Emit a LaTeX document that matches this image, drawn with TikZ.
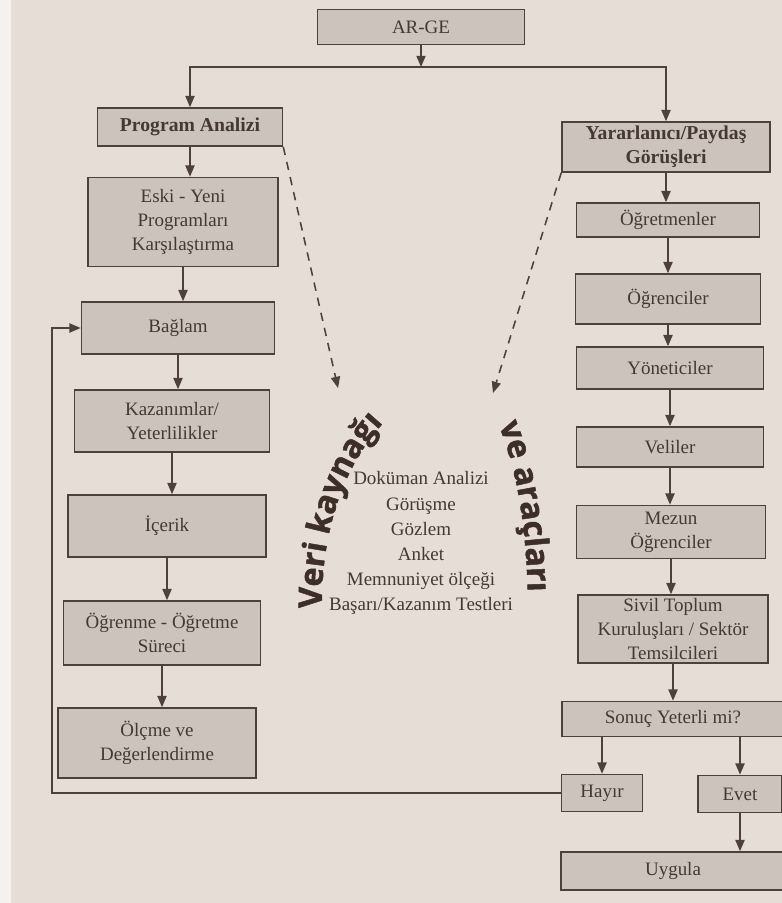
\documentclass[tikz,border=0pt]{standalone}
\usepackage{fontspec}
\setmainfont{Liberation Serif}
\newfontfamily\egri{Open Sans}[BoldFeatures={FakeBold=1.5}]
\usetikzlibrary{arrows.meta,decorations.text}
\definecolor{sayfa}{RGB}{229,221,214}
\definecolor{dolgu}{RGB}{205,195,189}
\definecolor{cizgi}{RGB}{78,64,58}
\definecolor{yazi}{RGB}{70,56,50}
\definecolor{koyu}{RGB}{62,46,40}
\tikzset{
  kutu/.style={draw=cizgi,fill=dolgu,line width=1.1pt,align=center,inner sep=1pt,text=yazi,
    font=\fontsize{13.5}{17}\selectfont},
  boyut/.style 2 args={minimum width=#1*0.025cm,minimum height=#2*0.025cm},
  ok/.style={draw=cizgi,line width=1.1pt,-{Triangle[length=8pt,width=6.5pt]}},
  kesik/.style={dash pattern=on 6pt off 5pt}
}
\begin{document}
\begin{tikzpicture}[x=0.025cm,y=-0.025cm]
\fill[sayfa] (0,0) rectangle (782,903);
\fill[white!60!sayfa] (0,0) rectangle (11,903);
\useasboundingbox (0,0) rectangle (782,903);
\node[kutu,boyut={207}{35}] (arge) at (421,27) {AR-GE};
\node[kutu,boyut={185}{38},font=\fontsize{14}{17}\selectfont\bfseries] (prog) at (190,127) {Program Analizi};
\node[kutu,boyut={190}{89}] (eski) at (183,222) {Eski - Yeni\\Programları\\Karşılaştırma};
\node[kutu,boyut={193}{52}] (baglam) at (178,328) {Bağlam};
\node[kutu,boyut={195}{62}] (kazanim) at (172,421) {Kazanımlar/\\Yeterlilikler};
\node[kutu,boyut={198}{62}] (icerik) at (167,526) {İçerik};
\node[kutu,boyut={197}{64}] (surec) at (162,633) {Öğrenme - Öğretme\\Süreci};
\node[kutu,boyut={198}{70}] (olcme) at (157,743) {Ölçme ve\\Değerlendirme};
\node[kutu,boyut={208}{50},font=\fontsize{14}{17}\selectfont\bfseries] (paydas) at (666,147) {Yararlanıcı/Paydaş\\Görüşleri};
\node[kutu,boyut={183}{34}] (ogretmen) at (668,220) {Öğretmenler};
\node[kutu,boyut={185}{50}] (ogrenci) at (668,299) {Öğrenciler};
\node[kutu,boyut={187}{42}] (yonetici) at (670,368) {Yöneticiler};
\node[kutu,boyut={187}{40}] (veli) at (670,447) {Veliler};
\node[kutu,boyut={189}{53}] (mezun) at (671,532) {Mezun\\Öğrenciler};
\node[kutu,boyut={190}{68}] (stk) at (673,629) {Sivil Toplum\\Kuruluşları / Sektör\\Temsilcileri};
\node[kutu,boyut={222}{35}] (sonuc) at (673,719) {Sonuç Yeterli mi?};
\node[kutu,boyut={81}{37}] (hayir) at (602,793) {Hayır};
\node[kutu,boyut={84}{37}] (evet) at (740,794) {Evet};
\node[kutu,boyut={224}{38}] (uygula) at (673,871) {Uygula};
\node[align=center,text=yazi,font=\fontsize{13.5}{17.8}\selectfont] (liste) at (421,543)
  {Doküman Analizi\\Görüşme\\Gözlem\\Anket\\Memnuniyet ölçeği\\Başarı/Kazanım Testleri};
\coordinate (dal) at (421,67);
\coordinate (u1) at (338,388);
\coordinate (u2) at (493,393);
\coordinate (geri) at (52,793);
\draw[ok] (arge) -- (dal);
\draw[ok] (dal) -| (prog);
\draw[ok] (dal) -| (paydas);
\draw[ok] (prog) -- (prog |- eski.north);
\draw[ok] (eski) -- (eski |- baglam.north);
\draw[ok] (baglam) -- (baglam |- kazanim.north);
\draw[ok] (kazanim) -- (kazanim |- icerik.north);
\draw[ok] (icerik) -- (icerik |- surec.north);
\draw[ok] (surec) -- (surec |- olcme.north);
\draw[ok] (paydas) -- (paydas |- ogretmen.north);
\draw[ok] (ogretmen) -- (ogretmen |- ogrenci.north);
\draw[ok] (ogrenci) -- (ogrenci |- yonetici.north);
\draw[ok] (yonetici) -- (yonetici |- veli.north);
\draw[ok] (veli) -- (veli |- mezun.north);
\draw[ok] (mezun) -- (mezun |- stk.north);
\draw[ok] (stk) -- (stk |- sonuc.north);
\draw[ok] (hayir |- sonuc.south) -- (hayir);
\draw[ok] (evet |- sonuc.south) -- (evet);
\draw[ok] (evet) -- (evet |- uygula.north);
\draw[ok] (hayir) -- (geri) |- (baglam);
\draw[ok,kesik] (prog.south east) -- (u1);
\draw[ok,kesik] (paydas.south west) -- (u2);
\path[decorate,decoration={text along path,text color=koyu,text align=center,
  text={|\egri\bfseries\fontsize{23}{23}\selectfont|Veri kaynağı}}]
  (322,612) .. controls (320,545) and (338,470) .. (386,420);
\path[decorate,decoration={text along path,text color=koyu,text align=center,
  text={|\egri\bfseries\fontsize{23}{23}\selectfont|ve araçları}}]
  (494,414) .. controls (515,460) and (527,520) .. (528,604);
\end{tikzpicture}
\end{document}
